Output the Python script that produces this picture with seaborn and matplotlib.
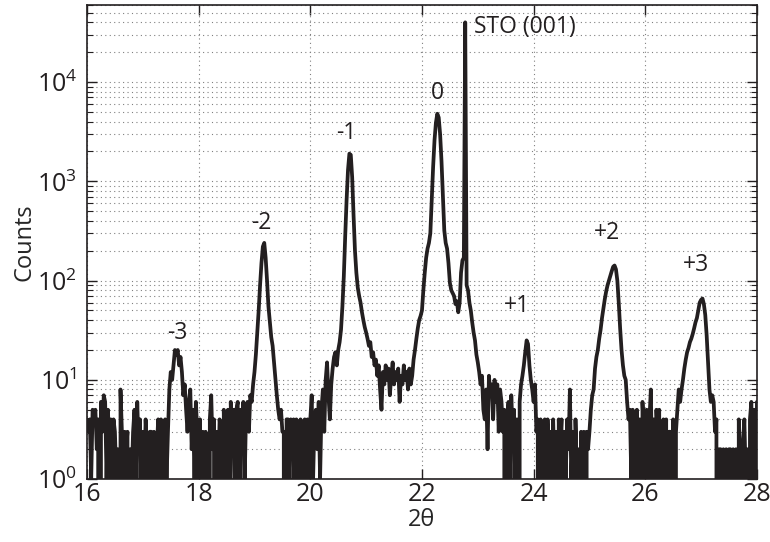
import numpy as np
import matplotlib
matplotlib.use("Agg")
import matplotlib.pyplot as plt
import seaborn as sns
from matplotlib.ticker import LogLocator, NullFormatter, MultipleLocator

# counts, 0.025 deg steps, one list per degree of 2theta
counts_16 = [4, 3, 4, 1, 5, 4, 5, 2, 4, 0, 6, 3, 7, 6, 1, 5, 2, 4, 0, 4,
             3, 1, 2, 0, 8, 3, 0, 3, 2, 3, 0, 2, 1, 3, 5, 1, 6, 2, 4, 0]
counts_17 = [3, 1, 4, 2, 0, 3, 3, 1, 3, 0, 2, 4, 1, 4, 0, 3, 4, 1, 3, 8,
             12, 10, 14, 20, 18, 20, 14, 17, 12, 7, 9, 5, 3, 6, 8, 2, 5, 1, 6, 3]
counts_18 = [1, 4, 0, 3, 1, 3, 2, 0, 4, 7, 2, 4, 0, 3, 1, 4, 3, 0, 5, 1,
             4, 5, 0, 6, 2, 5, 1, 5, 6, 0, 5, 3, 6, 1, 5, 6, 3, 7, 6, 9]
counts_19 = [12, 18, 30, 50, 90, 150, 220, 240, 170, 100, 55, 38, 27, 22, 15, 10, 7, 5, 4, 5,
             3, 3, 0, 4, 4, 1, 4, 2, 4, 0, 4, 3, 1, 4, 0, 3, 4, 1, 4, 0]
counts_20 = [4, 7, 1, 4, 5, 2, 6, 1, 5, 8, 3, 10, 15, 7, 4, 9, 13, 17, 19, 14,
             20, 24, 32, 55, 110, 280, 650, 1300, 1900, 1850, 1100, 450, 200, 120, 85, 70, 60, 48, 40, 34]
counts_21 = [30, 26, 22, 24, 17, 19, 14, 16, 11, 14, 8, 5, 12, 9, 14, 10, 13, 7, 11, 15,
             9, 12, 10, 13, 6, 11, 9, 14, 10, 12, 8, 13, 9, 11, 16, 20, 26, 33, 40, 44]
counts_22 = [50, 80, 120, 170, 210, 240, 300, 650, 1400, 2600, 3900, 4800, 4400, 3000, 1600, 700, 320, 240, 210, 150,
             95, 80, 75, 70, 58, 62, 48, 60, 120, 160, 170, 40000, 90, 80, 60, 50, 38, 30, 25, 18]
counts_23 = [15, 12, 9, 11, 5, 4, 8, 2, 11, 7, 9, 4, 10, 6, 9, 3, 8, 6, 3, 5,
             0, 4, 6, 1, 7, 3, 5, 0, 4, 0, 6, 9, 11, 14, 19, 25, 23, 14, 10, 8]
counts_24 = [6, 9, 3, 4, 0, 4, 1, 3, 4, 0, 4, 1, 3, 0, 4, 1, 3, 0, 4, 2,
             4, 0, 3, 1, 4, 2, 8, 1, 3, 0, 4, 1, 2, 0, 3, 1, 3, 0, 3, 2]
counts_25 = [3, 5, 7, 8, 13, 17, 20, 26, 32, 42, 52, 65, 78, 90, 100, 112, 125, 138, 142, 130,
             100, 60, 33, 20, 14, 11, 10, 6, 4, 5, 1, 5, 3, 0, 5, 1, 4, 0, 6, 3]
counts_26 = [1, 5, 0, 4, 8, 1, 4, 0, 5, 2, 5, 0, 3, 4, 1, 4, 0, 3, 3, 1,
             4, 0, 3, 5, 8, 6, 8, 10, 13, 16, 19, 21, 24, 26, 29, 33, 38, 42, 50, 60]
counts_27 = [64, 66, 58, 45, 28, 15, 8, 6, 7, 6, 3, 4, 0, 2, 2, 0, 2, 1, 2, 0,
             2, 2, 0, 2, 1, 2, 0, 4, 2, 0, 2, 4, 1, 2, 0, 4, 6, 1, 5, 0]
counts_28 = [6]

counts = np.concatenate([counts_16, counts_17, counts_18, counts_19, counts_20, counts_21,
                         counts_22, counts_23, counts_24, counts_25, counts_26, counts_27,
                         counts_28]).astype(float)
two_theta = np.linspace(16, 28, len(counts))

# peak labels
peak_labels = ["-3", "-2", "-1", "0", "+1", "+2", "+3"]
label_x = [17.61, 19.13, 20.65, 22.28, 23.71, 25.32, 26.91]
label_y = [30, 380, 3100, 7800, 56, 300, 145]

sns.set_style("ticks")
plt.rcParams["font.family"] = ["Open Sans", "DejaVu Sans"]

fig = plt.figure(figsize=(7.7, 5.42), dpi=100)
ax = fig.add_axes([0.113, 0.116, 0.870, 0.875])

sns.lineplot(x=two_theta, y=counts, ax=ax, color="#231f20", linewidth=2.7,
             estimator=None, sort=False, errorbar=None)

ax.set_yscale("log")
ax.set_xlim(16, 28)
ax.set_ylim(1, 6e4)
ax.xaxis.set_major_locator(MultipleLocator(2))
ax.yaxis.set_major_locator(LogLocator(base=10, numticks=10))
ax.yaxis.set_minor_locator(LogLocator(base=10, subs=np.arange(2, 10), numticks=20))
ax.yaxis.set_minor_formatter(NullFormatter())

ax.set_axisbelow(True)
ax.grid(which="major", axis="both", linestyle=(0, (1, 3)), color="#808080", linewidth=0.8)
ax.grid(which="minor", axis="y", linestyle=(0, (1, 3)), color="#808080", linewidth=0.8)

ax.tick_params(which="both", direction="in", top=True, right=True, colors="#231f20")
ax.tick_params(which="major", length=7, width=1, labelsize=18)
ax.tick_params(axis="x", which="major", pad=2)
ax.tick_params(axis="y", which="major", pad=7)
ax.tick_params(which="minor", length=4, width=0.8)
for s in ax.spines.values():
    s.set_linewidth(1.2)
    s.set_color("#231f20")

for lab, lx, ly in zip(peak_labels, label_x, label_y):
    ax.text(lx, ly, lab, ha="center", va="center", fontsize=16.5, color="#231f20")
ax.text(22.94, 36000, "STO (001)", ha="left", va="center", fontsize=16.5, color="#231f20")

ax.set_xlabel("2θ", fontsize=17, labelpad=1)
ax.set_ylabel("Counts", fontsize=17, labelpad=0)

fig.savefig("out.png", dpi=100)
